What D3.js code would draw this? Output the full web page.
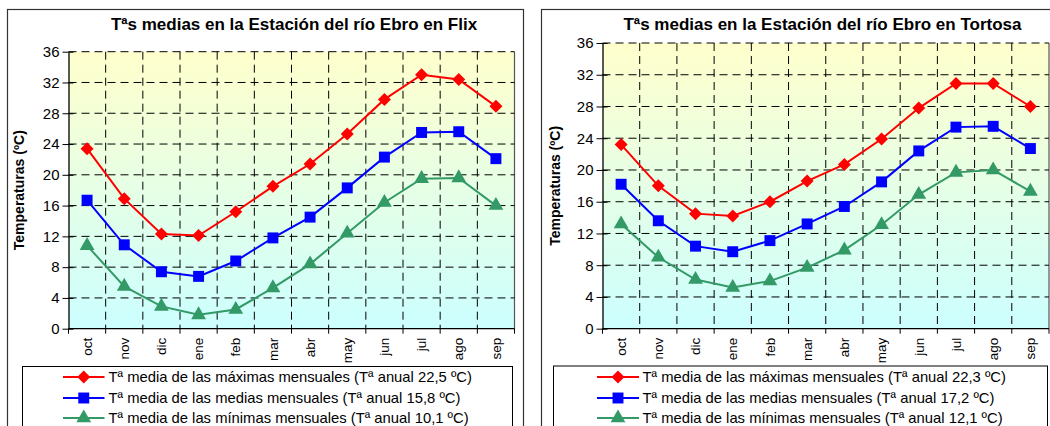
<!DOCTYPE html>
<html><head><meta charset="utf-8">
<script src="https://cdn.jsdelivr.net/npm/d3@7"></script>
<style>
body{margin:0;background:#fff;}
svg{display:block;font-family:"Liberation Sans",Arial,sans-serif;}
</style></head>
<body>
<svg id="c" width="1050" height="426"></svg>
<script>
const meses = ["oct","nov","dic","ene","feb","mar","abr","may","jun","jul","ago","sep"];
const yTicks = [0,4,8,12,16,20,24,28,32,36];

const flixMax = [23.4,16.9,12.3,12.1,15.2,18.5,21.4,25.3,29.8,33.0,32.4,28.9];
const flixMed = [16.7,10.9,7.4,6.8,8.8,11.8,14.5,18.3,22.3,25.5,25.6,22.1];
const flixMin = [10.8,5.5,2.9,1.8,2.5,5.3,8.4,12.4,16.4,19.5,19.6,16.0];

const tortMax = [23.2,18.0,14.5,14.2,16.0,18.6,20.7,23.9,27.8,30.9,30.9,28.0];
const tortMed = [18.2,13.6,10.4,9.7,11.1,13.2,15.4,18.5,22.4,25.4,25.5,22.7];
const tortMin = [13.2,9.0,6.2,5.2,6.0,7.7,9.9,13.1,16.9,19.7,20.0,17.3];

const flixTitle = "Tªs medias en la Estación del río Ebro en Flix";
const tortTitle = "Tªs medias en la Estación del río Ebro en Tortosa";
const yTitle = "Temperaturas (ºC)";
const flixLegend = ["Tª media de las máximas mensuales (Tª anual 22,5 ºC)",
                    "Tª media de las medias mensuales (Tª anual 15,8 ºC)",
                    "Tª media de las mínimas mensuales (Tª anual 10,1 ºC)"];
const tortLegend = ["Tª media de las máximas mensuales (Tª anual 22,3 ºC)",
                    "Tª media de las medias mensuales (Tª anual 17,2 ºC)",
                    "Tª media de las mínimas mensuales (Tª anual 12,1 ºC)"];

const colors = ["#ff0000","#0000ff","#339966"];
const symbols = [d3.symbolDiamond2 || d3.symbolDiamond, d3.symbolSquare, d3.symbolTriangle];
const symSizes = [95, 120, 95];

const svg = d3.select("#c");
const defs = svg.append("defs");
const grad = defs.append("linearGradient").attr("id","bg").attr("x1",0).attr("y1",0).attr("x2",0).attr("y2",1);
grad.append("stop").attr("offset","0%").attr("stop-color","#ffffcc");
grad.append("stop").attr("offset","100%").attr("stop-color","#ccffff");

function symPath(i){
  if(i===0){ return "M0,-6.5L6.5,0L0,6.5L-6.5,0Z"; }
  return d3.symbol().type(symbols[i]).size(symSizes[i])();
}

function drawChart(cfg){
  const g = svg.append("g");
  g.append("rect").attr("x",cfg.box[0]).attr("y",cfg.box[1]).attr("width",cfg.box[2]).attr("height",cfg.box[3])
    .attr("fill","#fff").attr("stroke","#333").attr("stroke-width",1.2);
  const [px0,py0,px1,py1] = cfg.plot;
  const x = d3.scaleBand().domain(meses).range([px0,px1]).padding(0);
  const y = d3.scaleLinear().domain([0,36]).range([py1,py0]);
  const bw = x.bandwidth();
  g.append("rect").attr("x",px0).attr("y",py0).attr("width",px1-px0).attr("height",py1-py0).attr("fill","url(#bg)");
  g.append("line").attr("x1",px1).attr("x2",px1).attr("y1",py0).attr("y2",py1).attr("stroke","#555").attr("stroke-width",1.2);
  g.append("g").selectAll("line").data(yTicks.filter(t=>t>0)).join("line")
    .attr("x1",px0).attr("x2",px1).attr("y1",d=>y(d)).attr("y2",d=>y(d))
    .attr("stroke","#000").attr("stroke-width",1).attr("stroke-dasharray","8,5");
  g.append("g").selectAll("line").data(meses.slice(1)).join("line")
    .attr("x1",d=>x(d)).attr("x2",d=>x(d)).attr("y1",py0).attr("y2",py1)
    .attr("stroke","#000").attr("stroke-width",1).attr("stroke-dasharray","8,5");
  const ya = g.append("g").attr("transform",`translate(${px0},0)`)
    .call(d3.axisLeft(y).tickValues(yTicks).tickSizeInner(6).tickSizeOuter(0).tickPadding(3));
  ya.select(".domain").attr("stroke","#000").attr("stroke-width",1.3);
  ya.selectAll(".tick line").attr("stroke","#000").attr("x2",-6).attr("x1",5);
  ya.selectAll("text").attr("font-size",15).attr("fill","#000").attr("font-family","Liberation Sans, Arial, sans-serif");
  g.append("line").attr("x1",px0).attr("x2",px1).attr("y1",py1).attr("y2",py1).attr("stroke","#000").attr("stroke-width",1.3);
  const bounds = meses.map(m=>x(m)).concat([px1]);
  g.append("g").selectAll("line").data(bounds).join("line")
    .attr("x1",d=>d).attr("x2",d=>d).attr("y1",py1).attr("y2",py1+5).attr("stroke","#000").attr("stroke-width",1);
  g.append("g").selectAll("text").data(meses).join("text")
    .attr("transform",d=>`translate(${x(d)+bw/2},${py1+9}) rotate(-90)`)
    .attr("text-anchor","end").attr("dy","0.35em").attr("font-size",13.5).attr("fill","#000").text(d=>d);
  g.append("text").attr("x",cfg.titleX).attr("y",cfg.titleY).attr("text-anchor","middle")
    .attr("font-weight","bold").attr("font-size",17).attr("fill","#000").text(cfg.title);
  g.append("text").attr("transform",`translate(${cfg.yTitleX},${(py0+py1)/2}) rotate(-90)`)
    .attr("text-anchor","middle").attr("font-weight","bold").attr("font-size",14).attr("fill","#000").text(yTitle);
  const line = d3.line().x((d,i)=>x(meses[i])+bw/2).y(d=>y(d));
  cfg.series.forEach((s,i)=>{
    g.append("path").attr("d",line(s)).attr("fill","none").attr("stroke",colors[i]).attr("stroke-width",2);
    g.append("g").selectAll("path").data(s).join("path")
      .attr("transform",(d,j)=>`translate(${x(meses[j])+bw/2},${y(d)})`)
      .attr("d",symPath(i)).attr("fill",colors[i]);
  });
  const [lx,ly,lw,lh] = cfg.legBox;
  g.append("rect").attr("x",lx).attr("y",ly).attr("width",lw).attr("height",lh)
    .attr("fill","#fff").attr("stroke","#000").attr("stroke-width",1);
  cfg.legend.forEach((t,i)=>{
    const yy = cfg.legRows[i];
    g.append("line").attr("x1",cfg.legLine[0]).attr("x2",cfg.legLine[1]).attr("y1",yy).attr("y2",yy)
      .attr("stroke",colors[i]).attr("stroke-width",2);
    g.append("path").attr("transform",`translate(${(cfg.legLine[0]+cfg.legLine[1])/2},${yy})`)
      .attr("d",symPath(i)).attr("fill",colors[i]);
    g.append("text").attr("x",cfg.legText).attr("y",yy).attr("dy","0.36em")
      .attr("font-size",14.8).attr("fill","#000").text(t);
  });
}

drawChart({
  box:[7.5,9.5,516,440], plot:[68.5,51.7,514.5,328.7],
  title:flixTitle, titleX:294, titleY:30, yTitleX:24,
  series:[flixMax,flixMed,flixMin], legend:flixLegend,
  legBox:[22.5,366.5,490,80], legRows:[377,398,418], legLine:[63,104.5], legText:108.5
});
drawChart({
  box:[541.5,9.5,540,440], plot:[602.5,43,1049,328.7],
  title:tortTitle, titleX:822.5, titleY:30, yTitleX:560,
  series:[tortMax,tortMed,tortMin], legend:tortLegend,
  legBox:[553.5,366,494,80], legRows:[377,398,418], legLine:[597,639], legText:642.5
});
</script>
</body></html>
